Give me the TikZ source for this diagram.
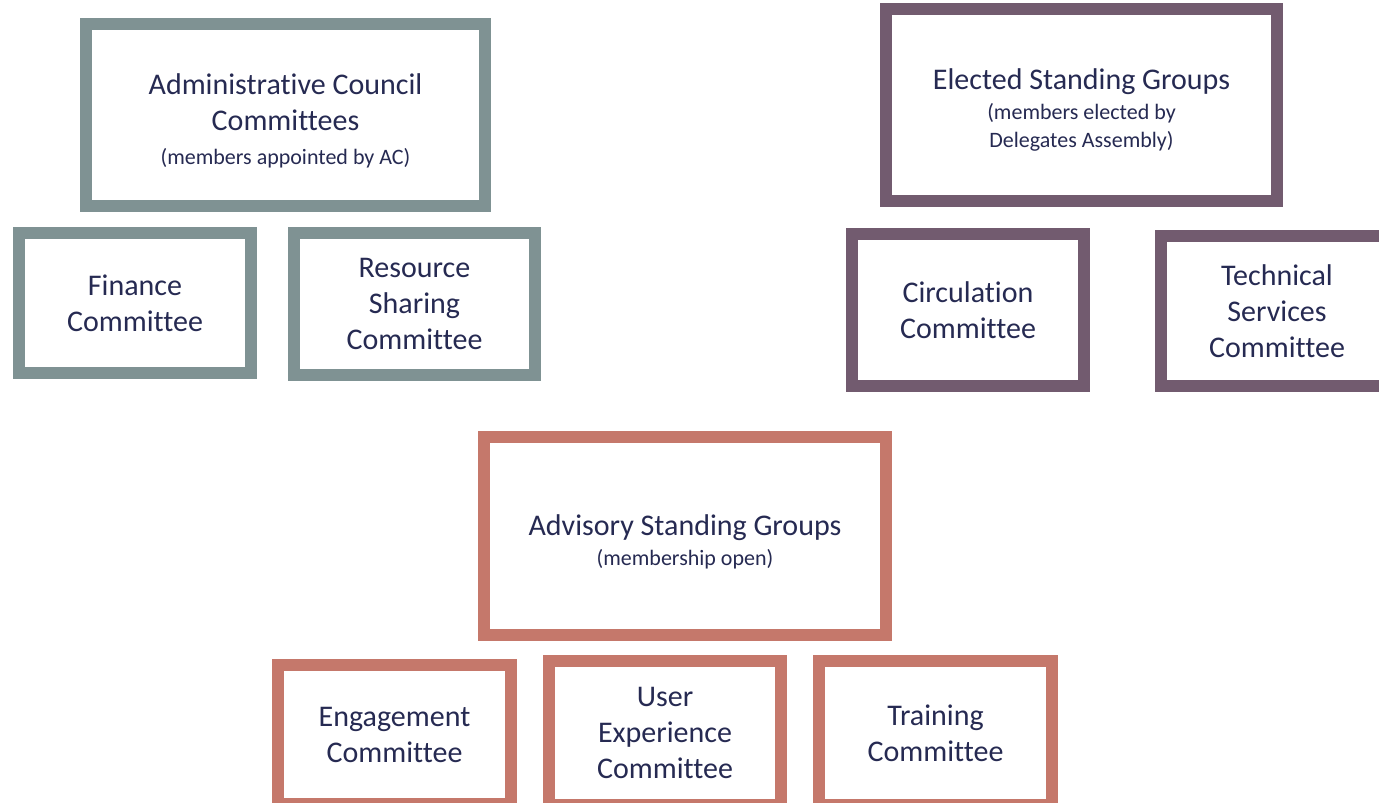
\documentclass[tikz,border=0pt]{standalone}
\usepackage{fontspec}
\setmainfont{Carlito}[Ligatures={NoCommon,NoContextual,NoRare}, Contextuals=NoAlternate]
\usetikzlibrary{shapes}

\definecolor{adminGray}{HTML}{7F9293}
\definecolor{electedPurple}{HTML}{725B6F}
\definecolor{advisoryRed}{HTML}{C5786B}
\definecolor{labelNavy}{HTML}{262A52}

\newcommand{\subText}[1]{{\fontsize{22}{28}\selectfont #1}}
\newcommand{\padTop}[2]{\raisebox{0pt}[\dimexpr\height+#1\relax]{#2}}

\begin{document}
\begin{tikzpicture}[x = 1pt, y = -1pt]
\tikzstyle{boxStyle} = [shape = rectangle, draw, line width = 12pt, fill = white, inner sep = 0pt, align = center, text = labelNavy, font = \fontsize{30}{36}\selectfont]
\tikzstyle{adminStyle} = [boxStyle, draw = adminGray]
\tikzstyle{electedStyle} = [boxStyle, draw = electedPurple]
\tikzstyle{advisoryStyle} = [boxStyle, draw = advisoryRed]
\useasboundingbox (0,0) rectangle (1379,803);
\clip (0,0) rectangle (1379,803);
% administrative council
\node[adminStyle, minimum width = 399, minimum height = 182] (ac) at (285.5,115) {\padTop{12pt}{Administrative Council}\\Committees\\[-2pt]\subText{(members appointed by AC)}};
\node[adminStyle, minimum width = 232, minimum height = 140] (fin) at (135,303) {Finance\\Committee};
\node[adminStyle, minimum width = 241, minimum height = 142] (rsc) at (414.5,304) {Resource\\Sharing\\Committee};
% elected standing groups
\node[electedStyle, minimum width = 391, minimum height = 192] (esg) at (1081.5,105) {\padTop{10pt}{Elected Standing Groups}\\[-6pt]\subText{(members elected by}\\[-8pt]\subText{Delegates Assembly)}};
\node[electedStyle, minimum width = 232, minimum height = 152] (circ) at (968,310) {Circulation\\Committee};
\node[electedStyle, minimum width = 232, minimum height = 150] (tsc) at (1277,311) {Technical\\Services\\Committee};
% advisory standing groups
\node[advisoryStyle, minimum width = 402, minimum height = 198] (asg) at (685,536) {\padTop{12pt}{Advisory Standing Groups}\\[-6pt]\subText{(membership open)}};
\node[advisoryStyle, minimum width = 233, minimum height = 139] (eng) at (394.5,734.5) {Engagement\\Committee};
\node[advisoryStyle, minimum width = 232, minimum height = 144] (uxc) at (665,733) {User\\Experience\\Committee};
\node[advisoryStyle, minimum width = 233, minimum height = 144] (trn) at (935.5,733) {Training\\Committee};
\end{tikzpicture}
\end{document}
